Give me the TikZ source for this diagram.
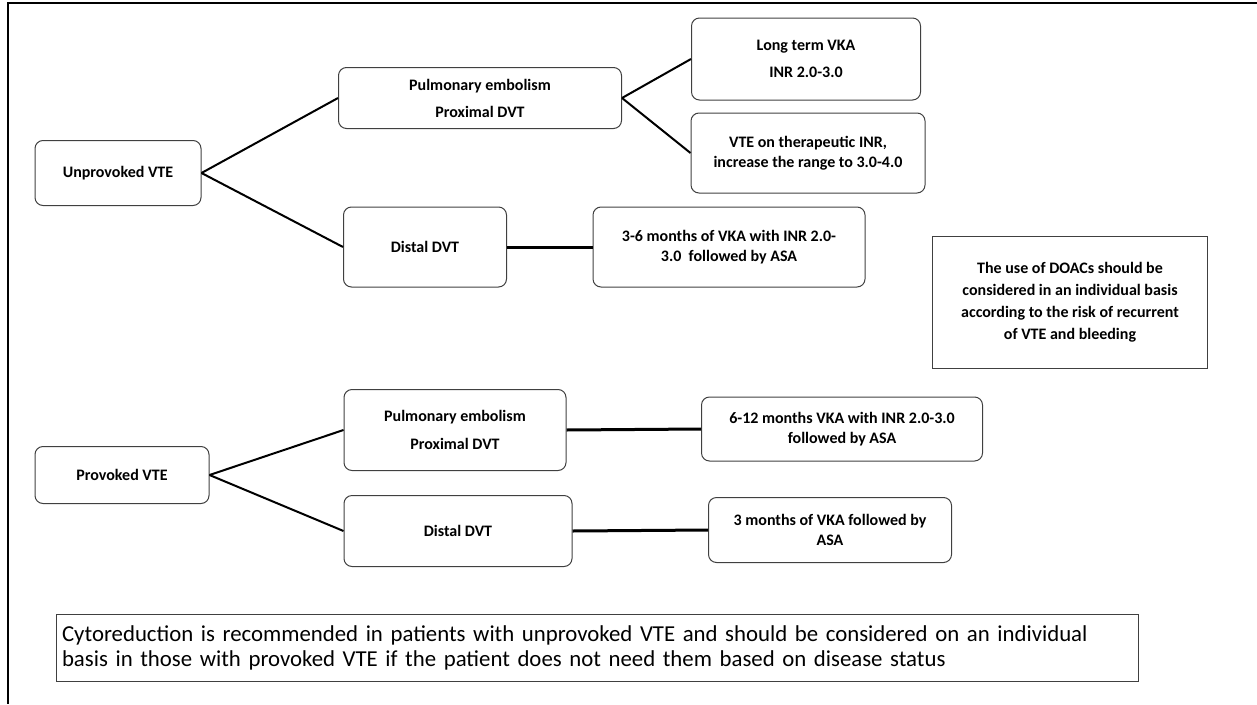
\documentclass[tikz,border=0pt]{standalone}
\usepackage{fontspec}
\setmainfont{Carlito}
\usetikzlibrary{positioning}
\tikzset{
  box/.style={draw=black!75, line width=1pt, rounded corners=8pt, align=center,
    font=\bfseries\fontsize{16}{20}\selectfont, inner sep=2pt},
  note/.style={draw=black!75, line width=1pt, align=center,
    font=\bfseries\fontsize{16}{22}\selectfont},
  link/.style={line width=2pt},
  bar/.style={line width=3pt}
}
\begin{document}
\begin{tikzpicture}[x=1pt, y=-1pt]
	\useasboundingbox (0,0) rectangle (1257,704);
	\draw [line width=2pt] (1257,3)--(8,3)--(8,704);
	% unprovoked branch
	\node [box, minimum width=166, minimum height=65] (unprov) at (118,173) {Unprovoked VTE};
	\node [box, minimum width=283, minimum height=61] (pe1) at (480,98) {Pulmonary embolism\\[7pt]Proximal DVT};
	\node [box, minimum width=163, minimum height=80] (dist1) at (425,247) {Distal DVT};
	\node [box, minimum width=229, minimum height=82] (ltvka) at (806,59) {Long term VKA\\[7pt]INR 2.0-3.0};
	\node [box, minimum width=234, minimum height=80] (vteinr) at (808,153) {VTE on therapeutic INR,\\increase the range to 3.0-4.0};
	\node [box, minimum width=272, minimum height=80] (m36) at (729,247) {3-6 months of VKA with INR 2.0-\\3.0\ \ followed by ASA};
	\node [note, minimum width=275, minimum height=132] (doac) at (1070,302) {The use of DOACs should be\\considered in an individual basis\\according to the risk of recurrent\\of VTE and bleeding};
	% provoked branch
	\node [box, minimum width=174, minimum height=57] (prov) at (122,475) {Provoked VTE};
	\node [box, minimum width=222, minimum height=81] (pe2) at (455,430) {Pulmonary embolism\\[8pt]Proximal DVT};
	\node [box, minimum width=228, minimum height=71] (dist2) at (458,531) {Distal DVT};
	\node [box, minimum width=281, minimum height=64] (m612) at (842,429) {6-12 months VKA with INR 2.0-3.0\\followed by ASA};
	\node [box, minimum width=243, minimum height=65] (m3) at (830,530) {3 months of VKA followed by\\ASA};
	\node [draw=black!75, line width=1pt, minimum width=1082, minimum height=67, text width=1070,
		align=left, font=\fontsize{22.8}{25}\selectfont] (cyto) at (597,648)
		{Cytoreduction is recommended in patients with unprovoked VTE and should be considered on an individual\\basis in those with provoked VTE if the patient does not need them based on disease status};
	\draw [link] (unprov.east)--(pe1.west);
	\draw [link] (unprov.east)--(dist1.west);
	\draw [link] (pe1.east)--(ltvka.west);
	\draw [link] (pe1.east)--(vteinr.west);
	\draw [bar] (dist1.east)--(m36.west);
	\draw [link] (prov.east)--(pe2.west);
	\draw [link] (prov.east)--(dist2.west);
	\draw [bar] (pe2.east)--(m612.west);
	\draw [bar] (dist2.east)--(m3.west);
\end{tikzpicture}
\end{document}
